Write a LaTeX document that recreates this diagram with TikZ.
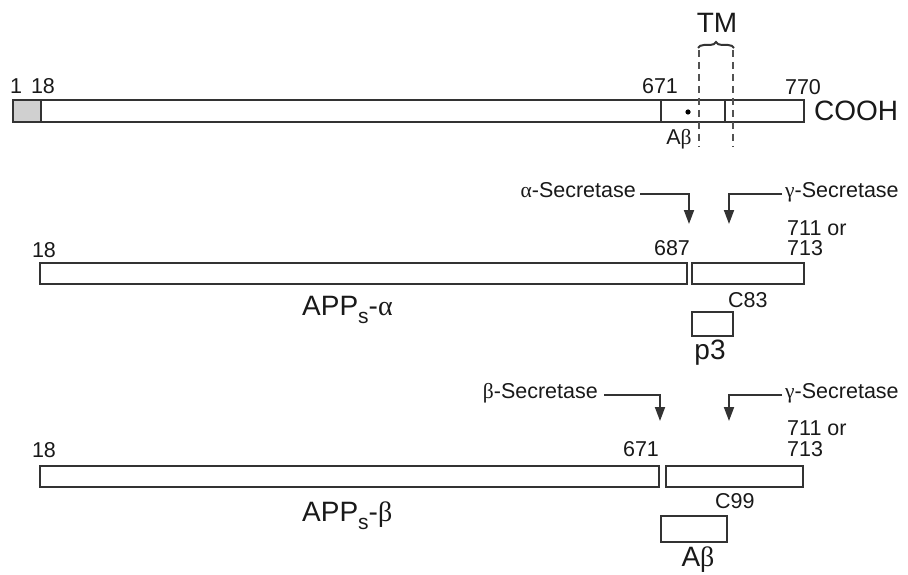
\documentclass[tikz,border=0pt]{standalone}
\usepackage{fontspec}
\setmainfont{Liberation Sans}
\newfontfamily\grk{Liberation Serif}
\usetikzlibrary{arrows.meta,decorations.pathreplacing}
\definecolor{ink}{HTML}{333333}
\definecolor{sig}{HTML}{D0D0D0}
\begin{document}
\begin{tikzpicture}[x=1pt,y=-1pt,
  bar/.style={draw=ink, line width=2pt, fill=white},
  sm/.style={font=\fontsize{21.5}{24}\selectfont, inner sep=0pt, anchor=base, text=black!90},
  lg/.style={font=\fontsize{28}{31}\selectfont, inner sep=0pt, anchor=base, text=black!90},
  cut/.style={draw=ink, line width=1.8pt, -{Triangle[length=14pt,width=10pt]}},
  tmline/.style={draw=ink!85, line width=2pt, dash pattern=on 7pt off 5pt},
  brc/.style={draw=ink, line width=2pt, decorate, decoration={brace, amplitude=6pt}}]
\useasboundingbox (0,0) rectangle (908,575);

% ---------- full-length APP ----------
\draw[bar] (13,100) rectangle (804,122);
\draw[bar, fill=sig] (13,100) rectangle (41,122);
\draw[ink, line width=2pt] (661,100) -- (661,122);
\draw[ink, line width=2pt] (725,100) -- (725,122);
\fill[black] (688,112) circle (2.6pt);
\draw[tmline] (699,50) -- (699,147);
\draw[tmline] (733,50) -- (733,147);
\draw[brc] (698,48) -- (734,48);
\node[lg] (tm) at (717,33) {TM};
\node[sm] (n1) at (16,94) {1};
\node[sm] (n18a) at (43,94) {18};
\node[sm] (n671a) at (660,94) {671};
\node[sm] (n770) at (803,95) {770};
\node[lg, anchor=base west] (cooh) at (814,121) {COOH};
\node[sm] (abs) at (679,145) {A{\grk β}};

% ---------- alpha-secretase pathway ----------
\node[sm, anchor=base east] (asec) at (636,197) {{\grk α}-Secretase};
\node[sm, anchor=base west] (gsec1) at (785,197) {{\grk γ}-Secretase};
\coordinate (atip) at (689,224);
\coordinate (gtip1) at (729,224);
\draw[cut] ([xshift=4pt]asec.mid east) -| (atip);
\draw[cut] ([xshift=-3pt]gsec1.mid west) -| (gtip1);
\node[sm] (n18b) at (44,257) {18};
\node[sm] (n687) at (672,255) {687};
\node[sm, anchor=base west] (n711a) at (787,235) {711 or};
\node[sm, anchor=base west] (n713a) at (787,255) {713};
\draw[bar] (40,263) rectangle (687,284);
\draw[bar] (692,263) rectangle (804,284);
\node[sm, anchor=base west] (c83) at (728,307) {C83};
\draw[bar] (692,312) rectangle (733,336);
\node[lg] (p3) at (710,359) {p3};
\node[lg, anchor=base west] (appa) at (302,315) {APP\raisebox{-0.3em}{\fontsize{21}{21}\selectfont s}-{\grk α}};

% ---------- beta-secretase pathway ----------
\node[sm, anchor=base east] (bsec) at (598,398) {{\grk β}-Secretase};
\node[sm, anchor=base west] (gsec2) at (785,398) {{\grk γ}-Secretase};
\coordinate (btip) at (660,421);
\coordinate (gtip2) at (729,421);
\draw[cut] ([xshift=6pt]bsec.mid east) -| (btip);
\draw[cut] ([xshift=-3pt]gsec2.mid west) -| (gtip2);
\node[sm] (n18c) at (44,457) {18};
\node[sm] (n671b) at (641,456) {671};
\node[sm, anchor=base west] (n711b) at (787,435) {711 or};
\node[sm, anchor=base west] (n713b) at (787,456) {713};
\draw[bar] (40,466) rectangle (659,487);
\draw[bar] (666,466) rectangle (803,487);
\node[sm, anchor=base west] (c99) at (715,508) {C99};
\draw[bar] (661,516) rectangle (727,542);
\node[lg] (abbig) at (698,566) {A{\grk β}};
\node[lg, anchor=base west] (appb) at (302,521) {APP\raisebox{-0.3em}{\fontsize{21}{21}\selectfont s}-{\grk β}};
\end{tikzpicture}
\end{document}
